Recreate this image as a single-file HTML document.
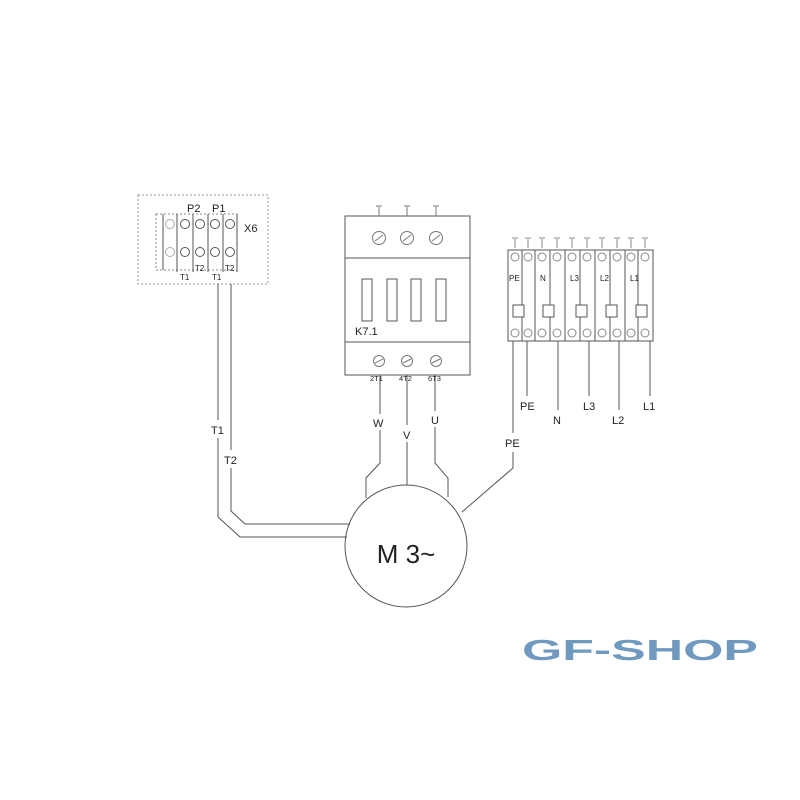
<!DOCTYPE html>
<html><head><meta charset="utf-8"><style>html,body{margin:0;padding:0;background:#fff}svg{display:block}text{font-family:"Liberation Sans",Arial,sans-serif;fill:#222}</style></head>
<body>
<svg width="800" height="800" viewBox="0 0 800 800" xmlns="http://www.w3.org/2000/svg">
<g fill="none" stroke="#555" stroke-width="1">
<!-- X6 box -->
<rect x="138" y="195" width="130" height="89" stroke="#999" stroke-dasharray="2,2"/>
<rect x="156" y="214" width="81" height="56" stroke="#888" stroke-dasharray="2,2"/>
<path d="M163 214V270M177 214V272M193 214V272M208 214V272M223 214V272M237 214V272"/>
<circle cx="170" cy="224" r="4.5" stroke="#aaa"/><circle cx="170" cy="252" r="4.5" stroke="#aaa"/>
<circle cx="185" cy="224" r="4.5"/><circle cx="185" cy="252" r="4.5"/>
<circle cx="200" cy="224" r="4.5"/><circle cx="200" cy="252" r="4.5"/>
<circle cx="215" cy="224" r="4.5"/><circle cx="215" cy="252" r="4.5"/>
<circle cx="230" cy="224" r="4.5"/><circle cx="230" cy="252" r="4.5"/>
<!-- X6 wires -->
<path d="M218 284V420M218 438V517L240 537H347"/>
<path d="M231 284V450M231 468V511L245 524H350"/>
<!-- Contactor -->
<rect x="345" y="216" width="125" height="159"/>
<path d="M345 258H470M345 342H470"/>
<rect x="362" y="279" width="10" height="42"/><rect x="387" y="279" width="10" height="42"/>
<rect x="411" y="279" width="10" height="42"/><rect x="436" y="279" width="10" height="42"/>
<g stroke="#777">
<circle cx="379" cy="238" r="6.5"/><circle cx="407" cy="238" r="6.5"/><circle cx="436" cy="238" r="6.5"/>
<path d="M375 241L383 235M403 241L411 235M432 241L440 235"/>
<circle cx="379" cy="361" r="5.5"/><circle cx="407" cy="361" r="5.5"/><circle cx="436" cy="361" r="5.5"/>
<path d="M375 363L383 359M403 363L411 359M432 363L440 359"/>
<path d="M379 207V216M376 206H382M407 207V216M404 206H410M436 207V216M433 206H439"/>
</g>
<!-- Contactor to motor -->
<path d="M380 375V414M380 430V463L366 478V498"/>
<path d="M407 375V425M407 442V485"/>
<path d="M435 375V411M435 427V463L448 478V497"/>
<!-- Motor -->
<circle cx="406" cy="546" r="61"/>
<!-- Terminal block -->
<rect x="508" y="250" width="145" height="91"/>
<path d="M522 250V341M535 250V341M550 250V341M565 250V341M580 250V341M595 250V341M610 250V341M625 250V341M638 250V341"/>
<rect x="513" y="305" width="11" height="12" fill="#fff"/>
<rect x="543" y="305" width="11" height="12" fill="#fff"/>
<rect x="576" y="305" width="11" height="12" fill="#fff"/>
<rect x="606" y="305" width="11" height="12" fill="#fff"/>
<rect x="636" y="305" width="11" height="12" fill="#fff"/>
<g stroke="#888">
<circle cx="515" cy="257" r="4"/><circle cx="528" cy="257" r="4"/><circle cx="542" cy="257" r="4"/><circle cx="557" cy="257" r="4"/><circle cx="572" cy="257" r="4"/><circle cx="587" cy="257" r="4"/><circle cx="602" cy="257" r="4"/><circle cx="617" cy="257" r="4"/><circle cx="631" cy="257" r="4"/><circle cx="645" cy="257" r="4"/>
<circle cx="515" cy="333" r="4"/><circle cx="528" cy="333" r="4"/><circle cx="542" cy="333" r="4"/><circle cx="557" cy="333" r="4"/><circle cx="572" cy="333" r="4"/><circle cx="587" cy="333" r="4"/><circle cx="602" cy="333" r="4"/><circle cx="617" cy="333" r="4"/><circle cx="631" cy="333" r="4"/><circle cx="645" cy="333" r="4"/>
<path d="M515 239V248M512 238H518M528 239V248M525 238H531M542 239V248M539 238H545M557 239V248M554 238H560M572 239V248M569 238H575M587 239V248M584 238H590M602 239V248M599 238H605M617 239V248M614 238H620M631 239V248M628 238H634M645 239V248M642 238H648"/>
</g>
<!-- Block output lines -->
<path d="M513 341V433M513 452V468L462 512"/>
<path d="M527 341V396M558 341V410M589 341V396M619 341V410M650 341V396"/>
</g>
<!-- labels -->
<text x="187" y="212" font-size="11">P2</text><text x="212" y="212" font-size="11">P1</text>
<text x="244" y="232" font-size="11">X6</text>
<text x="180" y="280" font-size="8">T1</text><text x="212" y="280" font-size="8">T1</text>
<text x="195" y="271" font-size="8">T2</text><text x="225" y="271" font-size="8">T2</text>
<text x="211" y="434" font-size="11">T1</text><text x="224" y="464" font-size="11">T2</text>
<text x="355" y="335" font-size="11">K7.1</text>
<text x="370" y="381" font-size="7.5">2T1</text><text x="399" y="381" font-size="7.5">4T2</text><text x="428" y="381" font-size="7.5">6T3</text>
<text x="373" y="427" font-size="11">W</text><text x="403" y="439" font-size="11">V</text><text x="431" y="424" font-size="11">U</text>
<text x="406" y="563" font-size="26" text-anchor="middle">M 3~</text>
<text x="509" y="281" font-size="8">PE</text><text x="540" y="281" font-size="8">N</text><text x="570" y="281" font-size="8">L3</text><text x="600" y="281" font-size="8">L2</text><text x="630" y="281" font-size="8">L1</text>
<text x="520" y="410" font-size="11">PE</text><text x="553" y="424" font-size="11">N</text><text x="583" y="410" font-size="11">L3</text><text x="612" y="424" font-size="11">L2</text><text x="643" y="410" font-size="11">L1</text>
<text x="505" y="447" font-size="11">PE</text>
<text x="522" y="660" font-size="29" font-weight="bold" textLength="236" lengthAdjust="spacingAndGlyphs" style="fill:#7099c0">GF-SHOP</text>
</svg>
</body></html>
